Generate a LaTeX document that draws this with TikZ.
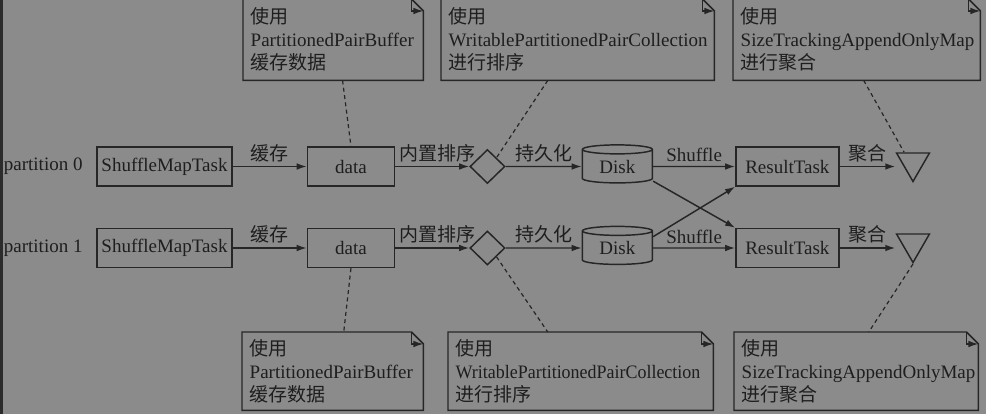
\documentclass[tikz,border=0pt]{standalone}
\usepackage{fontspec}
\usepackage{graphicx}
\setmainfont{Liberation Serif}
\newfontfamily\cjk{Noto Sans CJK SC}
\usetikzlibrary{arrows.meta, shapes.geometric, positioning, calc}
\definecolor{bggray}{RGB}{139,139,139}
\definecolor{stripgray}{RGB}{44,44,44}
\definecolor{ink}{RGB}{30,30,30}
\definecolor{edgegray}{RGB}{38,38,38}

% outline of a note with a folded corner
\newcommand{\notefold}[1]{%
	\draw (#1.north west) -- ([xshift=-9pt]#1.north east) -- ([yshift=-9pt]#1.north east)
	-- (#1.south east) -- (#1.south west) -- cycle;
	\draw ([xshift=-9pt]#1.north east) |- ([yshift=-9pt]#1.north east);}

\begin{document}
\begin{tikzpicture}[x=0.75pt,y=-0.75pt,font=\fontsize{14.25pt}{17.25pt}\selectfont,
	->,>={Latex[length=7.5pt,width=5pt]},line width=1.1pt,color=edgegray,text=ink]
	
	\tikzset{task/.style={rectangle, draw, inner sep=0pt, minimum height=29.25pt}}
	\tikzset{sorter/.style={diamond, draw, inner sep=0pt,
			minimum width=26.25pt, minimum height=25.5pt}}
	\tikzset{disk/.style={cylinder, shape border rotate=90, draw, aspect=0.25,
			inner sep=0pt, minimum width=52.5pt, minimum height=28.5pt}}
	\tikzset{merger/.style={regular polygon, regular polygon sides=3,
			regular polygon rotate=180, draw, inner sep=0pt, minimum size=28.5pt}}
	\tikzset{note/.style={rectangle, anchor=north west, align=left,
			inner xsep=5.25pt, inner ysep=0pt}}
	\tikzset{lbl/.style={above, inner sep=3pt}}
	\tikzset{hint/.style={-, line width=0.9pt, dash pattern=on 3pt off 2.5pt}}
	
	\fill[bggray] (0,0) rectangle (986,414);
	\fill[stripgray] (0,0) rectangle (3,414);
	\useasboundingbox (0,0) rectangle (986,414);
	
	% partition 0
	\node[task, minimum width=101.25pt] (smt0) at (164.5,166.5) {ShuffleMapTask};
	\node[left=9.75pt of smt0, inner sep=0pt] (p0) {partition 0};
	\node[task, minimum width=65.25pt, right=55.5pt of smt0] (data0) {data};
	\node[sorter, right=55.5pt of data0] (dia0) {};
	\node[disk, right=57pt of dia0] (disk0) {Disk};
	\node[task, minimum width=77.25pt, right=61.5pt of disk0] (rt0) {ResultTask};
	\node[merger] (tri0) at (913,162.5) {};
	
	% partition 1
	\node[task, minimum width=101.25pt] (smt1) at (164.5,248) {ShuffleMapTask};
	\node[left=9.75pt of smt1, inner sep=0pt] (p1) {partition 1};
	\node[task, minimum width=65.25pt, right=55.5pt of smt1] (data1) {data};
	\node[sorter, right=55.5pt of data1] (dia1) {};
	\node[disk, right=57pt of dia1] (disk1) {Disk};
	\node[task, minimum width=77.25pt, right=61.5pt of disk1] (rt1) {ResultTask};
	\node[merger] (tri1) at (913,243.5) {};
	
	% notes
	\node[note, minimum width=134.25pt, minimum height=60pt, text width=123.75pt]
	(nt1) at (243,-1) {{\cjk 使用}\\PartitionedPairBuffer\\{\cjk 缓存数据}};
	\node[note, minimum width=204pt, minimum height=60pt, text width=193.5pt]
	(nt2) at (441,-1) {{\cjk 使用}\\WritablePartitionedPairCollection\\{\cjk 进行排序}};
	\node[note, minimum width=184.5pt, minimum height=60pt, text width=174pt]
	(nt3) at (733,-1) {{\cjk 使用}\\SizeTrackingAppendOnlyMap\\{\cjk 进行聚合}};
	\node[note, minimum width=135pt, minimum height=57.75pt, text width=124.5pt]
	(nb1) at (242,332) {{\cjk 使用}\\PartitionedPairBuffer\\{\cjk 缓存数据}};
	\node[note, minimum width=198pt, minimum height=57.75pt, text width=187.5pt]
	(nb2) at (448,332) {{\cjk 使用}\\\scalebox{0.945}[1]{WritablePartitionedPairCollection}\\{\cjk 进行排序}};
	\node[note, minimum width=182.25pt, minimum height=57.75pt, text width=171.75pt]
	(nb3) at (734,332) {{\cjk 使用}\\SizeTrackingAppendOnlyMap\\{\cjk 进行聚合}};
	\notefold{nt1} \notefold{nt2} \notefold{nt3}
	\notefold{nb1} \notefold{nb2} \notefold{nb3}
	
	% flow
	\draw (smt0) -- node[lbl] {\cjk 缓存} (data0);
	\draw (data0) -- node[lbl, pos=0.57] {\cjk 内置排序} (dia0);
	\draw (dia0) -- node[lbl] {\cjk 持久化} (disk0);
	\draw (disk0) -- node[lbl] {Shuffle} (rt0);
	\draw (rt0.east) -- node[lbl] {\cjk 聚合} (rt0.east -| tri0.corner 3);
	\draw (smt1) -- node[lbl] {\cjk 缓存} (data1);
	\draw (data1) -- node[lbl, pos=0.57] {\cjk 内置排序} (dia1);
	\draw (dia1) -- node[lbl] {\cjk 持久化} (disk1);
	\draw (disk1) -- node[lbl] {Shuffle} (rt1);
	\draw (rt1.east) -- node[lbl] {\cjk 聚合} (rt1.east -| tri1.corner 3);
	\draw ([yshift=-11pt]disk0.east) -- (rt1.north west);
	\draw ([yshift=8.5pt]disk1.east) -- (rt0.south west);
	
	% notes to steps
	\draw[hint] ([xshift=7pt]nt1.south) -- (data0.north);
	\draw[hint] ([xshift=-22.5pt]nt2.south) -- (dia0.north east);
	\draw[hint] ([xshift=5.25pt]nt3.south) -- ($(tri0.corner 3)!0.25!(tri0.corner 2)$);
	\draw[hint] (data1.south) -- ([xshift=8.25pt]nb1.north);
	\draw[hint] (dia1.south east) -- ([xshift=-24.75pt]nb2.north);
	\draw[hint] (tri1.south) -- ([xshift=9.4pt]nb3.north);
\end{tikzpicture}
\end{document}
